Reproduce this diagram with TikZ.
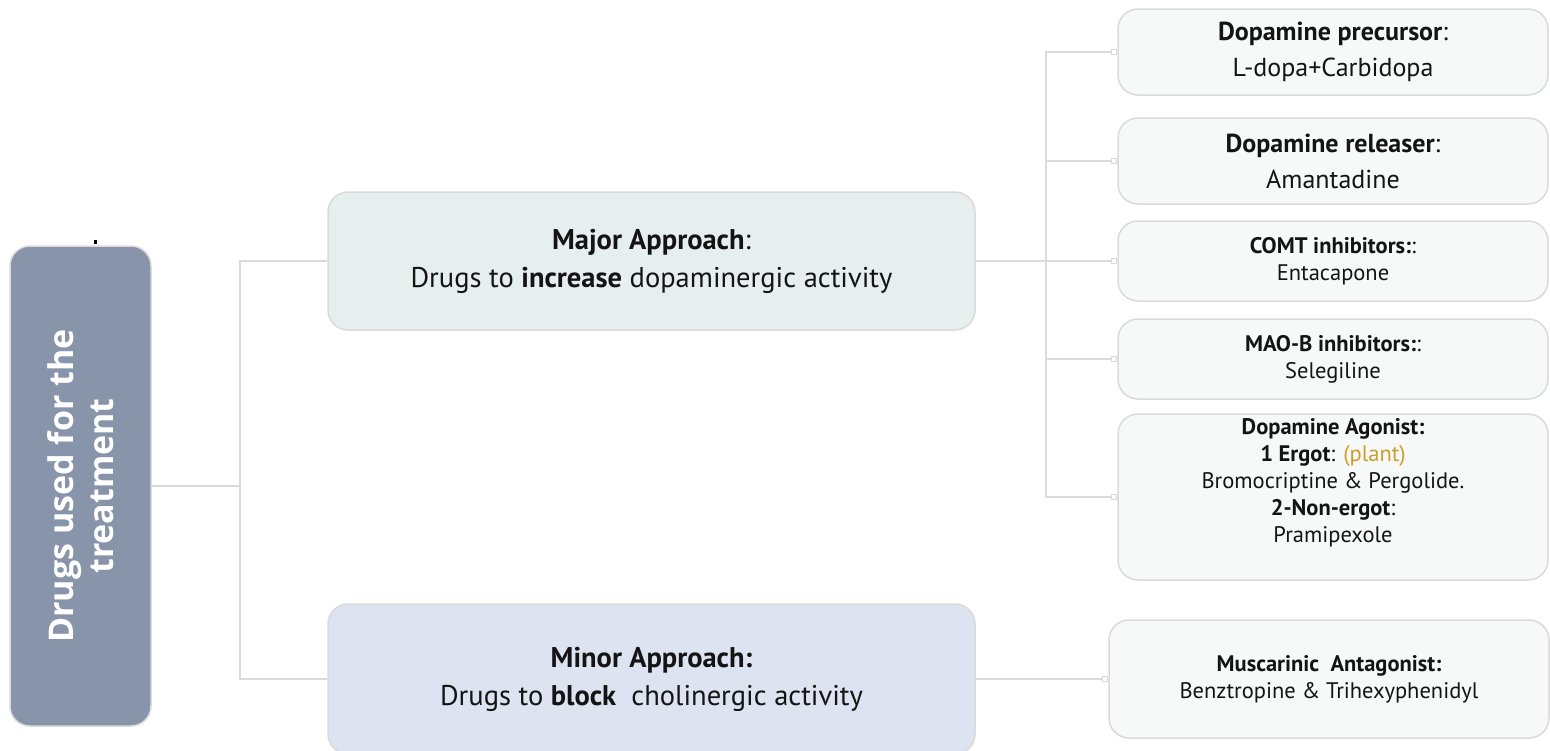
\documentclass[tikz,border=0pt]{standalone}
\usepackage{fontspec}
\setmainfont{PT Sans}
\newfontfamily\rootfont{Open Sans}
\definecolor{edgegrey}{HTML}{DADADA}
\definecolor{rootfill}{HTML}{8794AA}
\definecolor{majorfill}{HTML}{E6EFED}
\definecolor{minorfill}{HTML}{DDE3F1}
\definecolor{leaffill}{HTML}{F7F8F8}
\definecolor{plantgold}{HTML}{CC9E2A}
\tikzset{
  box/.style={draw=edgegrey, line width=1.5pt, rounded corners=20pt, align=center,
    inner sep=0pt, text=black!92},
  rootbox/.style={box, fill=rootfill, text=white},
  majorbox/.style={box, fill=majorfill, font=\fontsize{28.5}{38}\selectfont},
  minorbox/.style={box, fill=minorfill, font=\fontsize{28.5}{38}\selectfont},
  leafbig/.style={box, fill=leaffill, font=\fontsize{26}{36}\selectfont},
  leafsmall/.style={box, fill=leaffill, font=\fontsize{22.5}{27}\selectfont},
  conn/.style={draw=edgegrey, line width=1.5pt},
  portmark/.style={draw=edgegrey, fill=white, line width=1pt, minimum size=5pt,
    inner sep=0pt, anchor=east}
}
\begin{document}
\begin{tikzpicture}[x=1pt,y=-1pt]
\useasboundingbox (0,0) rectangle (1550,750);

% root of the tree
\node[rootbox, minimum width=141pt, minimum height=480pt] (root) at (80.5,486) {};
\node[rotate=90, text=white, align=center,
      font=\rootfont\bfseries\fontsize{34}{40}\selectfont] (roottext) at (root.center)
  {Drugs used for the\\treatment};
\fill (93.5,239.5) rectangle (96.5,244);

% the two approaches
\node[majorbox, minimum width=647pt, minimum height=138pt] (major) at (651.5,261)
  {\textbf{Major Approach}:\\Drugs to \textbf{increase} dopaminergic activity};
\node[minorbox, minimum width=647pt, minimum height=150pt] (minor) at (651.5,679)
  {\textbf{Minor Approach:}\\Drugs to \textbf{block}\ \ cholinergic activity};

% drug classes for the major approach
\node[leafbig, minimum width=430pt, minimum height=86pt] (c1) at (1333,52)
  {\textbf{Dopamine precursor}:\\L-dopa+Carbidopa};
\node[leafbig, minimum width=430pt, minimum height=86pt] (c2) at (1333,161)
  {\textbf{Dopamine releaser}:\\Amantadine};
\node[leafsmall, minimum width=430pt, minimum height=80pt] (c3) at (1333,261)
  {\textbf{COMT inhibitors:}:\\Entacapone};
\node[leafsmall, minimum width=430pt, minimum height=80pt] (c4) at (1333,359)
  {\textbf{MAO-B inhibitors:}:\\Selegiline};
\node[leafsmall, minimum width=430pt, minimum height=166pt] (c5) at (1333,497)
  {\textbf{Dopamine Agonist:}\\\textbf{1 Ergot}: \textcolor{plantgold}{(plant)}\\
   Bromocriptine \& Pergolide.\\\textbf{2-Non-ergot}:\\Pramipexole\\[6pt]};

% drug class for the minor approach
\node[leafsmall, minimum width=440pt, minimum height=118pt] (m1) at (1329,679)
  {\textbf{Muscarinic\ \ Antagonist:}\\Benztropine \& Trihexyphenidyl};

% connectors
\coordinate (j1) at (240,486);
\coordinate (j2) at (1046,261);
\draw[conn] (root.east) -- (j1);
\draw[conn] (j1) |- (major.west);
\draw[conn] (j1) |- (minor.west);
\draw[conn] (major.east) -- (j2);
\foreach \c in {c1,c2,c3,c4,c5} {
  \draw[conn] (j2) |- (\c.west);
  \node[portmark] at (\c.west) {};
}
\draw[conn] (minor.east) -- (m1.west);
\node[portmark] at (m1.west) {};
\end{tikzpicture}
\end{document}
